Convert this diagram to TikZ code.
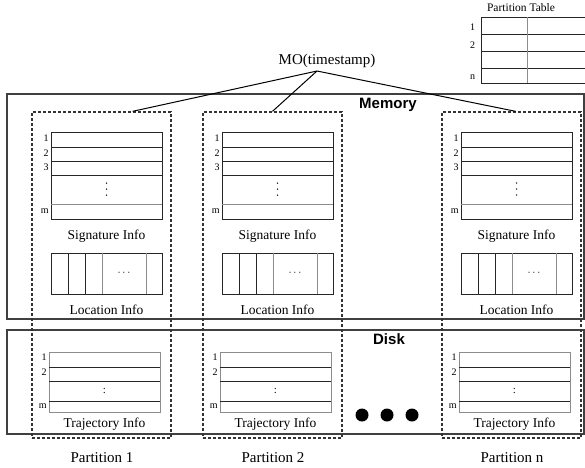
\documentclass[tikz,border=0pt]{standalone}
\usepackage{fontspec}
\setmainfont{Liberation Serif}
\newfontfamily\headfont{Liberation Sans}

\begin{document}
\begin{tikzpicture}[x=1pt, y=-1pt, line width=0.8pt,
  every node/.style={inner sep=1pt},
  tab/.style={draw=black!85, line width=0.8pt},
  light/.style={draw=black!45, line width=0.8pt},
  level/.style={draw=black!75, line width=1.2pt},
  partbox/.style={draw=black!80, dash pattern=on 3pt off 2pt, line width=1.4pt,
    minimum width=139pt, minimum height=326pt, inner sep=0pt},
  rowno/.style={font=\fontsize{10}{10}\selectfont, anchor=east, inner sep=0.5pt},
  caption/.style={font=\fontsize{13.5}{14}\selectfont},
  bigcap/.style={font=\fontsize{15}{16}\selectfont},
  head/.style={font=\headfont\bfseries\fontsize{15}{16}\selectfont}]

  \useasboundingbox (0,0) rectangle (585,467);

  % partition table
  \node[font=\fontsize{11.5}{12}\selectfont] (ptitle) at (521,8) {Partition Table};
  \draw[tab] (481,17) rectangle (590,83);
  \foreach \yy in {34,51,68} \draw[tab] (481,\yy) -- (590,\yy);
  \draw[light] (527,17) -- (527,83);
  \node[rowno] (pt1) at (476,27) {1};
  \node[rowno] (pt2) at (476,45) {2};
  \node[rowno] (ptn) at (476,77) {n};

  % memory and disk levels
  \draw[level] (7,94) rectangle (584,319);
  \draw[level] (7,330) rectangle (584,434);
  \node[head] (mem) at (388,105) {Memory};
  \node[head] (disk) at (389,339) {Disk};

  % one column per partition
  \foreach \px/\pn in {32/1, 203/2, 442/n} {
    \begin{scope}[shift={(\px,112)}]
      \node[partbox] (p\pn) at (69.5,163) {};

      % signature table
      \draw[tab] (19,20) rectangle (130,107);
      \draw[tab] (19,35) -- (130,35);
      \draw[tab] (19,49) -- (130,49);
      \draw[tab] (19,63) -- (130,63);
      \draw[light] (19,92) -- (130,92);
      \node[rowno] (s1\pn) at (17.5,26) {1};
      \node[rowno] (s2\pn) at (17.5,41) {2};
      \node[rowno] (s3\pn) at (17.5,55) {3};
      \node[rowno] (sm\pn) at (17.5,99) {m};
      % vertical dots
      \foreach \dy in {71,77,83} \fill (74.5,\dy) circle (0.75);
      \node[caption] (sig\pn) at (74.5,124) {Signature Info};

      % location table
      \draw[tab] (19,141) rectangle (130,182);
      \draw[tab] (36,141) -- (36,182);
      \draw[tab] (53,141) -- (53,182);
      \draw[light] (70,141) -- (70,182);
      \draw[light] (114,141) -- (114,182);
      \node[font=\fontsize{11}{11}\selectfont] (ld\pn) at (92,161) {$\cdots$};
      \node[caption] (loc\pn) at (74.5,198) {Location Info};

      % trajectory table
      \draw[light] (17,240) rectangle (128,300);
      \draw[tab] (17,255) -- (128,255);
      \draw[tab] (17,269) -- (128,269);
      \draw[tab] (17,289) -- (128,289);
      \node[rowno] (t1\pn) at (15.5,245) {1};
      \node[rowno] (t2\pn) at (15.5,260) {2};
      \node[rowno] (tm\pn) at (15.5,294.5) {m};
      \node[font=\fontsize{11}{11}\selectfont] (td\pn) at (72.5,279) {:};
      \node[caption] (traj\pn) at (72.5,312) {Trajectory Info};

      \node[bigcap] (lab\pn) at (70,346) {Partition \pn};
    \end{scope}
  }

  % further partitions
  \fill (362,415) circle (6.5);
  \fill (387,415) circle (6.5);
  \fill (412,415) circle (6.5);

  % hashing of objects to partitions
  \node[bigcap] (mo) at (327,61) {MO(timestamp)};
  \coordinate (apex) at (317,71);
  \draw[line width=1pt] (apex) -- ([xshift=-39pt]p1.north east);
  \draw[line width=1pt] (apex) -- (p2.north);
  \draw[line width=1pt] (apex) -- ([xshift=4pt]pn.north);
\end{tikzpicture}
\end{document}
